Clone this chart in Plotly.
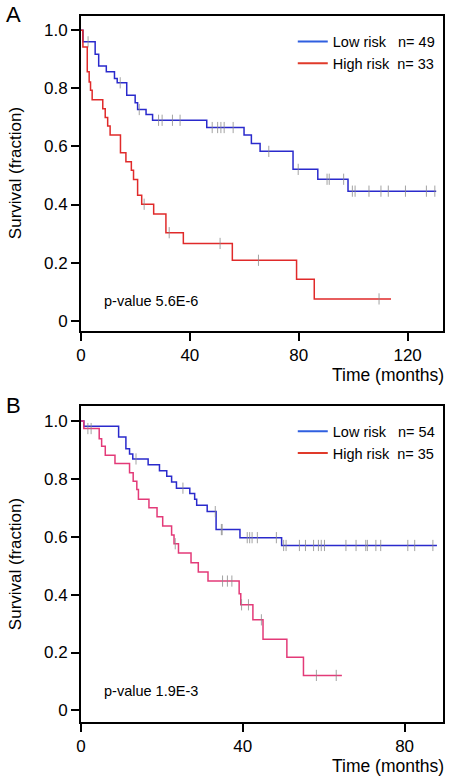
import plotly.graph_objects as go

# ---------------- data ----------------
# Panel A
A_low_time = [0, 0.7, 5.2, 6.5, 9.3, 12.3, 13.3, 16.8, 19.9, 20.8, 23.9, 26.3, 46.2, 59.9,
              62.6, 65.8, 77.9, 87.0, 98.1, 130.5]
A_low_surv = [1.0, 0.960, 0.917, 0.877, 0.857, 0.834, 0.819, 0.776, 0.750, 0.727, 0.710, 0.690,
              0.665, 0.639, 0.610, 0.583, 0.521, 0.487, 0.446, 0.446]
A_low_cens = [2.6, 14.4, 21.4, 28.5, 29.8, 33.6, 36.4, 48.2, 50.2, 51.4, 52.6, 55.9, 69.0, 79.8,
              90.4, 91.2, 96.5, 99.7, 100.7, 105.8, 110.2, 112.9, 119.2, 126.9, 130.0]

A_high_time = [0, 0.7, 2.3, 3.0, 3.5, 4.1, 8.0, 8.9, 9.8, 10.7, 14.5, 16.5, 18.5, 19.3, 20.8,
               22.3, 26.7, 31.2, 37.6, 55.6, 79.2, 85.7, 113.9]
A_high_surv = [1.0, 0.942, 0.857, 0.822, 0.793, 0.761, 0.730, 0.700, 0.670, 0.639, 0.578, 0.547,
               0.518, 0.486, 0.432, 0.401, 0.367, 0.303, 0.266, 0.208, 0.143, 0.075, 0.075]
A_high_cens = [23.2, 32.4, 51.1, 65.2, 109.5]

# Panel B
B_low_time = [0, 0.7, 9.3, 11.1, 12.0, 12.8, 16.6, 19.4, 21.2, 22.4, 23.6, 26.9, 28.1, 28.6,
              31.2, 33.4, 39.3, 49.6, 88.0]
B_low_surv = [1.0, 0.982, 0.945, 0.904, 0.886, 0.869, 0.849, 0.828, 0.809, 0.789, 0.768, 0.750,
              0.730, 0.709, 0.687, 0.625, 0.597, 0.570, 0.570]
B_low_cens = [13.6, 25.2, 33.2, 34.7, 34.9, 41.1, 41.7, 42.3, 43.6, 48.3, 50.1, 50.7, 54.0, 55.5,
              57.5, 58.7, 59.4, 60.2, 65.5, 68.0, 70.4, 70.8, 72.9, 74.1, 80.8, 82.5, 87.0]

B_high_time = [0, 0.7, 4.5, 5.1, 6.0, 8.4, 12.0, 12.9, 13.8, 14.2, 16.8, 18.8, 20.2, 22.4, 23.0,
               24.1, 27.2, 29.0, 31.4, 39.1, 39.5, 42.5, 45.0, 50.9, 55.0, 64.5]
B_high_surv = [1.0, 0.974, 0.939, 0.913, 0.882, 0.853, 0.821, 0.792, 0.763, 0.730, 0.700, 0.669,
               0.637, 0.606, 0.576, 0.544, 0.510, 0.478, 0.447, 0.403, 0.365, 0.313, 0.246,
               0.184, 0.121, 0.121]
B_high_cens = [1.7, 2.5, 23.3, 35.0, 36.2, 37.3, 39.7, 41.4, 44.6, 58.2, 63.1]

A_legend = ["Low risk\u00a0\u00a0\u00a0n= 49", "High risk\u00a0\u00a0n= 33"]
B_legend = ["Low risk\u00a0\u00a0\u00a0n= 54", "High risk\u00a0\u00a0n= 35"]
A_pvalue = "p-value 5.6E-6"
B_pvalue = "p-value 1.9E-3"
A_xticks = [0, 40, 80, 120]
B_xticks = [0, 40, 80]
y_ticks = [0, 0.2, 0.4, 0.6, 0.8, 1.0]
y_ticktext = ["0", "0.2", "0.4", "0.6", "0.8", "1.0"]

# ---------------- style ----------------
FONT = "Arial, 'Liberation Sans', Helvetica, sans-serif"
BLUE = "#2a2acc"
RED = "#e02a2a"
PINK = "#e33a78"
LEG_BLUE = "#2f5fe0"
LEG_RED = "#e03a2a"
CENS = "rgba(140,140,140,0.8)"


def surv_at(times, surv, t):
    s = surv[0]
    for ti, si in zip(times, surv):
        if ti <= t:
            s = si
    return s


fig = go.Figure()


def add_curve(times, surv, cens, color, xa, ya):
    fig.add_trace(go.Scatter(x=times, y=surv, mode="lines", line=dict(color=color, width=1.5, shape="hv"),
                             xaxis=xa, yaxis=ya, showlegend=False, hoverinfo="skip"))
    fig.add_trace(go.Scatter(x=cens, y=[surv_at(times, surv, c) for c in cens], mode="markers",
                             marker=dict(symbol="line-ns", size=8, line=dict(color=CENS, width=1)),
                             xaxis=xa, yaxis=ya, showlegend=False, hoverinfo="skip"))


add_curve(A_low_time, A_low_surv, A_low_cens, BLUE, "x", "y")
add_curve(A_high_time, A_high_surv, A_high_cens, RED, "x", "y")
add_curve(B_low_time, B_low_surv, B_low_cens, BLUE, "x2", "y2")
add_curve(B_high_time, B_high_surv, B_high_cens, PINK, "x2", "y2")

# legend entries
for name, col in zip(A_legend, [LEG_BLUE, LEG_RED]):
    fig.add_trace(go.Scatter(x=[None], y=[None], mode="lines", name=name, line=dict(color=col, width=2),
                             xaxis="x", yaxis="y", legend="legend"))
for name, col in zip(B_legend, [LEG_BLUE, LEG_RED]):
    fig.add_trace(go.Scatter(x=[None], y=[None], mode="lines", name=name, line=dict(color=col, width=2),
                             xaxis="x2", yaxis="y2", legend="legend2"))

axis_common = dict(showline=True, linecolor="black", linewidth=2, mirror=True, ticks="outside",
                   ticklen=8, tickwidth=2, tickcolor="black", showgrid=False, zeroline=False,
                   tickfont=dict(family=FONT, size=17, color="black"))

fig.update_layout(
    width=453, height=781,
    margin=dict(l=81, r=8, t=16, b=59),
    paper_bgcolor="white", plot_bgcolor="white",
    font=dict(family=FONT, color="black"),
    xaxis=dict(domain=[0, 1], anchor="y", range=[0, 133], tickvals=A_xticks, **axis_common),
    yaxis=dict(domain=[0.554, 1], anchor="x", range=[-0.035, 1.049], tickvals=y_ticks,
               ticktext=y_ticktext, **axis_common),
    xaxis2=dict(domain=[0, 1], anchor="y2", range=[0, 89.5], tickvals=B_xticks, **axis_common),
    yaxis2=dict(domain=[0, 0.4476], anchor="x2", range=[-0.040, 1.052], tickvals=y_ticks,
                ticktext=y_ticktext, **axis_common),
    legend=dict(x=0.585, y=0.9865, xanchor="left", yanchor="top", bgcolor="rgba(0,0,0,0)",
                font=dict(family=FONT, size=14.5, color="black"), tracegroupgap=0),
    legend2=dict(x=0.585, y=0.4345, xanchor="left", yanchor="top", bgcolor="rgba(0,0,0,0)",
                 font=dict(family=FONT, size=14.5, color="black"), tracegroupgap=0),
)

annos = [
    dict(text="A", xref="paper", yref="paper", x=-0.212, y=1.002, xanchor="left", yanchor="middle",
         showarrow=False, font=dict(size=22)),
    dict(text="B", xref="paper", yref="paper", x=-0.212, y=0.448, xanchor="left", yanchor="middle",
         showarrow=False, font=dict(size=22)),
    dict(text=A_pvalue, xref="x", yref="y", x=7.6, y=0.067, xanchor="left", yanchor="middle",
         showarrow=False, font=dict(size=14.5)),
    dict(text=B_pvalue, xref="x2", yref="y2", x=5.1, y=0.067, xanchor="left", yanchor="middle",
         showarrow=False, font=dict(size=14.5)),
    dict(text="Time (months)", xref="paper", yref="paper", x=1.008, y=(721.7 - 375) / 706,
         xanchor="right", yanchor="middle", showarrow=False, font=dict(size=17.5)),
    dict(text="Time (months)", xref="paper", yref="paper", x=1.008, y=(721.7 - 766) / 706,
         xanchor="right", yanchor="middle", showarrow=False, font=dict(size=17.5)),
    dict(text="Survival (fraction)", xref="paper", yref="paper", x=(14.5 - 81) / 364,
         y=(721.7 - 173) / 706, xanchor="center", yanchor="middle", textangle=-90,
         showarrow=False, font=dict(size=17)),
    dict(text="Survival (fraction)", xref="paper", yref="paper", x=(14.5 - 81) / 364,
         y=(721.7 - 564) / 706, xanchor="center", yanchor="middle", textangle=-90,
         showarrow=False, font=dict(size=17)),
]
fig.update_layout(annotations=annos)

fig.write_html("out.html", config={"displayModeBar": False},
               post_script="document.body.style.margin='0';")
